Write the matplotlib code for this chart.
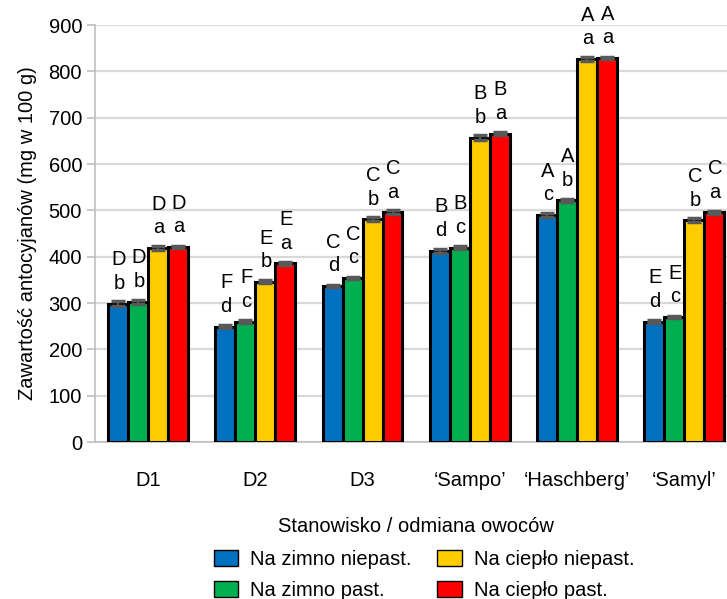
import matplotlib

matplotlib.use("Agg")
import matplotlib.pyplot as plt
import numpy as np

plt.rcParams["font.family"] = ["Liberation Sans", "DejaVu Sans"]

categories = ["D1", "D2", "D3", "\u2018Sampo\u2019", "\u2018Haschberg\u2019", "\u2018Samyl\u2019"]
series_names = ["Na zimno niepast.", "Na zimno past.", "Na ciep\u0142o niepast.", "Na ciep\u0142o past."]

cold_raw = [299, 249, 337, 413, 490, 260]
cold_past = [303, 260, 354, 420, 522, 270]
warm_raw = [419, 346, 481, 657, 827, 479]
warm_past = [421, 386, 496, 666, 829, 496]

cold_raw_err = [5, 3, 3, 4, 4, 3]
cold_past_err = [4, 3, 3, 4, 3, 3]
warm_raw_err = [5, 3, 4, 5, 4, 4]
warm_past_err = [3, 3, 4, 4, 3, 3]

upper_cold_raw = ["D", "F", "C", "B", "A", "E"]
upper_cold_past = ["D", "F", "C", "B", "A", "E"]
upper_warm_raw = ["D", "E", "C", "B", "A", "C"]
upper_warm_past = ["D", "E", "C", "B", "A", "C"]

lower_cold_raw = ["b", "d", "d", "d", "c", "d"]
lower_cold_past = ["b", "c", "c", "c", "b", "c"]
lower_warm_raw = ["a", "b", "b", "b", "a", "b"]
lower_warm_past = ["a", "a", "a", "a", "a", "a"]

colors = ["#0070C0", "#00B050", "#FFCC00", "#FF0000"]

values = [cold_raw, cold_past, warm_raw, warm_past]
errors = [cold_raw_err, cold_past_err, warm_raw_err, warm_past_err]
uppers = [upper_cold_raw, upper_cold_past, upper_warm_raw, upper_warm_past]
lowers = [lower_cold_raw, lower_cold_past, lower_warm_raw, lower_warm_past]

fig = plt.figure(figsize=(7.27, 5.99), dpi=100)
ax = fig.add_axes([0.130, 0.262, 0.885, 0.696])

x = np.arange(len(categories))
width = 0.186
fs = 14.5

for i, (vals, errs, color, name) in enumerate(zip(values, errors, colors, series_names)):
    pos = x + (i - 1.5) * width
    ax.bar(pos, vals, width=width, color=color, edgecolor="black", linewidth=2.2,
           label=name, zorder=3)
    ax.errorbar(pos, vals, yerr=errs, fmt="none", ecolor="#595959", elinewidth=1.5,
                capsize=5, capthick=2.5, zorder=4)
    for xp, v, up, lo in zip(pos, vals, uppers[i], lowers[i]):
        ax.annotate(lo, (xp, v), xytext=(0.5, 14.5), textcoords="offset points",
                    ha="center", va="center", fontsize=fs)
        ax.annotate(up, (xp, v), xytext=(0.5, 31.5), textcoords="offset points",
                    ha="center", va="center", fontsize=fs)

ax.set_xlim(-0.5, len(categories) - 0.5)
ax.set_ylim(0, 900)
ax.set_yticks(np.arange(0, 901, 100))
ax.set_xticks(x)
ax.set_xticklabels(categories, fontsize=fs)
ax.tick_params(axis="y", labelsize=fs, length=6, color="#BFBFBF", width=1.2, pad=3)
ax.tick_params(axis="x", length=0, pad=21)
ax.yaxis.grid(True, color="#D9D9D9", linewidth=1.6, zorder=0)
ax.set_axisbelow(True)
for side in ["top", "right"]:
    ax.spines[side].set_visible(False)
ax.spines["left"].set_color("#BFBFBF")
ax.spines["left"].set_linewidth(1.2)
ax.spines["bottom"].set_color("#BFBFBF")
ax.spines["bottom"].set_linewidth(1.2)

ax.set_ylabel("Zawarto\u015b\u0107 antocyjan\u00f3w (mg w 100 g)", fontsize=fs, labelpad=8)
ax.set_xlabel("Stanowisko / odmiana owoc\u00f3w", fontsize=fs, labelpad=19)

leg = ax.legend(loc="upper center", bbox_to_anchor=(0.512, -0.215), ncol=2, frameon=False,
                fontsize=fs, handlelength=1.2, handleheight=0.85, columnspacing=1.3,
                labelspacing=0.6, handletextpad=0.6)
for patch in leg.get_patches():
    patch.set_linewidth(1.0)

fig.savefig("out.png", dpi=100)
